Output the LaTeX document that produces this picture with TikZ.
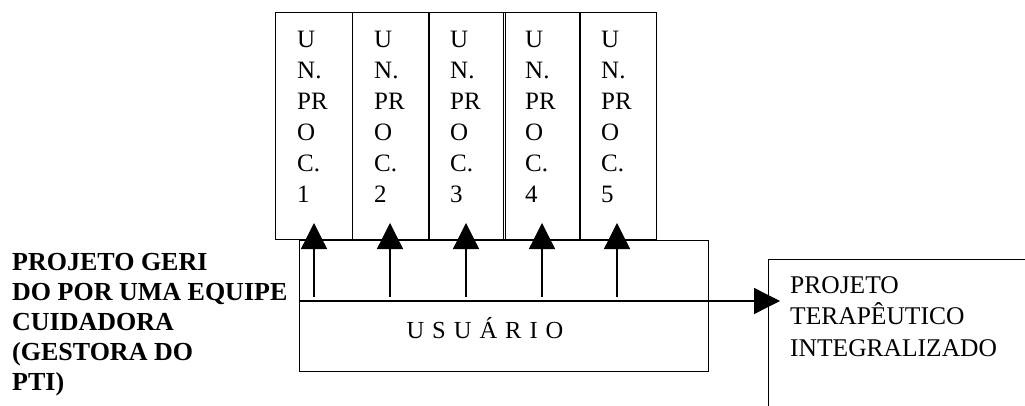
\documentclass[tikz,border=0pt]{standalone}
\usepackage{fontspec}
\setmainfont{Liberation Serif}
\usetikzlibrary{arrows.meta,calc}
\begin{document}
\begin{tikzpicture}[x=1pt,y=-1pt,
  box/.style={draw,line width=1.3pt,rectangle,inner sep=0pt},
  colbox/.style={box,minimum width=77pt,minimum height=227pt,anchor=north west},
  coltext/.style={anchor=north west,inner sep=0pt,align=left,font=\fontsize{25}{31}\selectfont},
  link/.style={line width=1.3pt,-{Triangle[length=26pt,width=26pt]}}
]
\useasboundingbox (0,0) rectangle (1025,406);
% unit boxes
\foreach \i/\x in {1/275,2/352,3/428,4/503,5/579}{
  \node[colbox] (c\i) at (\x,12) {};
  \node[coltext] (t\i) at ($(c\i.north west)+(22,18.5)$) {U\\N.\\PR\\O\\C.\\\i};
}
% user box
\node[box,minimum width=409pt,minimum height=131pt,anchor=north west] (usuario) at (299,240) {};
\node[anchor=base,inner sep=0pt,font=\fontsize{24.5}{28}\selectfont] (ulabel) at (485,338)
  {U\hspace{8pt}S\hspace{8pt}U\hspace{8pt}Á\hspace{8pt}R\hspace{8pt}I\hspace{8pt}O};
% PTI box (open to the right and bottom)
\node[box,minimum width=290pt,minimum height=180pt,anchor=north west] (pti) at (768,259) {};
\node[anchor=north west,inner sep=0pt,align=left,font=\fontsize{25.5}{31.5}\selectfont] (ptitext) at (790,276)
  {PROJETO\\TERAPÊUTICO\\INTEGRALIZADO};
% left bold text
\node[anchor=north west,inner sep=0pt,align=left,font=\fontsize{26}{30}\selectfont\bfseries] (equipe) at (12,253)
  {PROJETO GERI\\DO POR UMA EQUIPE\\CUIDADORA\\(GESTORA DO\\PTI)};
% horizontal connector
\coordinate (hstart) at (usuario.west |- 0,301);
\coordinate (hend) at (780,301);
\draw[link] (hstart) -- (hend);
% vertical arrows
\foreach \i/\x in {1/314,2/390,3/466,4/542,5/617}{
  \coordinate (b\i) at (\x,297);
  \draw[link] (b\i) -- (\x,223);
}
\end{tikzpicture}
\end{document}
